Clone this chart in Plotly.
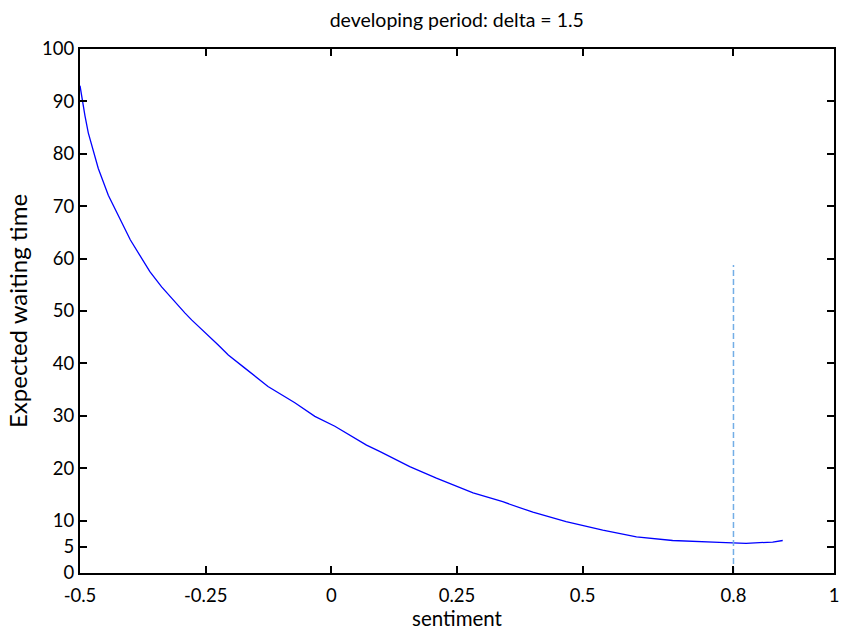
import plotly.graph_objects as go

sentiment = [-0.5, -0.4967, -0.4954, -0.490, -0.4835, -0.4636, -0.4437, -0.4105, -0.400,
             -0.361, -0.3376, -0.291, -0.278, -0.225, -0.205, -0.172, -0.126, -0.0726,
             -0.0328, 0.007, 0.030, 0.070, 0.096, 0.156, 0.209, 0.242, 0.282, 0.341,
             0.401, 0.467, 0.540, 0.607, 0.679, 0.772, 0.802, 0.825, 0.878, 0.898]
waiting_time = [93.0, 90.8, 90.0, 87.2, 84.0, 77.2, 72.1, 65.5, 63.6,
                57.5, 54.6, 49.6, 48.3, 43.5, 41.6, 39.1, 35.6, 32.5,
                29.9, 28.0, 26.7, 24.4, 23.2, 20.3, 18.1, 16.8, 15.3, 13.6,
                11.6, 9.8, 8.2, 6.9, 6.2, 5.85, 5.67, 5.67, 5.9, 6.2]

marker_x = [0.8, 0.8]
marker_y = [0, 58.8]

x_ticks = [-0.5, -0.25, 0, 0.25, 0.5, 0.8, 1]
x_tick_labels = ["-0.5", "-0.25", "0", "0.25", "0.5", "0.8", "1"]
y_ticks = [0, 5, 10, 20, 30, 40, 50, 60, 70, 80, 90, 100]
y_tick_labels = [str(v) for v in y_ticks]

FONT = "Lato"

fig = go.Figure()
fig.add_trace(go.Scatter(x=sentiment, y=waiting_time, mode="lines",
                         line=dict(color="#0000ff", width=1.3), showlegend=False))
fig.add_trace(go.Scatter(x=marker_x, y=marker_y, mode="lines",
                         line=dict(color="#73aee6", width=1.5, dash="6px,3px"), showlegend=False))

fig.update_layout(
    width=842, height=637,
    margin=dict(l=80, r=8, t=49, b=64, autoexpand=False),
    paper_bgcolor="white", plot_bgcolor="white",
    font=dict(family=FONT, color="black", size=18.5),
    title=dict(text="developing period: delta = 1.5", x=0.5425, xanchor="center",
               y=0.9686, yanchor="middle", font=dict(family=FONT, size=19.5, color="black")),
    xaxis=dict(range=[-0.5, 1], tickmode="array", tickvals=x_ticks, ticktext=x_tick_labels,
               ticks="inside", ticklen=7, tickwidth=1.5, tickcolor="black",
               showline=True, linecolor="black", linewidth=2, mirror="ticks",
               showgrid=False, zeroline=False, automargin=False,
               ticklabeloverflow="allow", ticklabelstandoff=5,
               title=dict(text="sentiment", standoff=0, font=dict(size=20.5)),
               tickfont=dict(size=18.5)),
    yaxis=dict(range=[0, 100], tickmode="array", tickvals=y_ticks, ticktext=y_tick_labels,
               ticks="inside", ticklen=7, tickwidth=1.5, tickcolor="black",
               showline=True, linecolor="black", linewidth=2, mirror="ticks",
               showgrid=False, zeroline=False, automargin=False,
               ticklabeloverflow="allow",
               title=dict(text="Expected waiting time", standoff=8, font=dict(size=24)),
               tickfont=dict(size=18.5)),
)

fig.write_html("out.html", config={"displayModeBar": False},
               post_script="document.body.style.margin='0';document.body.style.overflow='hidden';")
